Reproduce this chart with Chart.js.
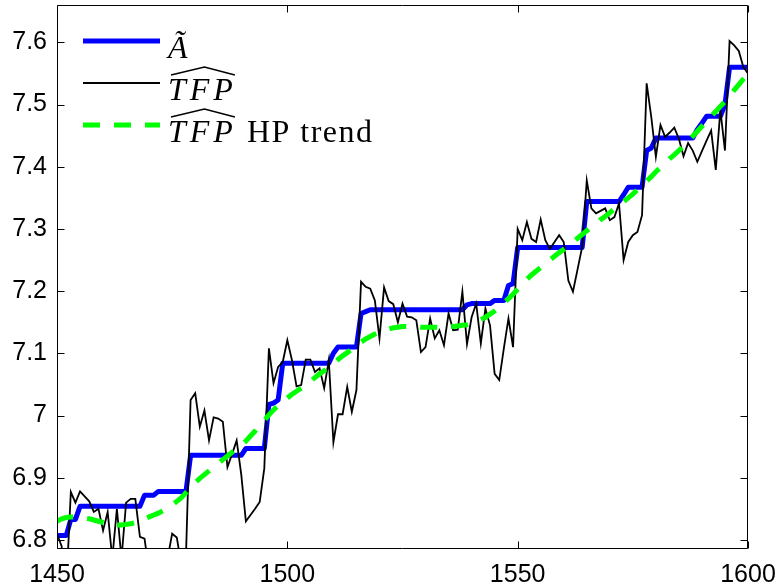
<!DOCTYPE html>
<html lang="en">
<head>
<meta charset="UTF-8" />
<title>TFP</title>
<script src="https://cdn.jsdelivr.net/npm/chart.js"></script>
<style>
  html, body { margin: 0; padding: 0; background: #fff; }
</style>
</head>
<body>
<canvas id="chartTfp" width="779" height="588"></canvas>
<script>
  // Years on the x axis
  const years = [
    1450, 1451, 1452, 1453, 1454, 1455, 1456, 1457, 1458, 1459,
    1460, 1461, 1462, 1463, 1464, 1465, 1466, 1467, 1468, 1469,
    1470, 1471, 1472, 1473, 1474, 1475, 1476, 1477, 1478, 1479,
    1480, 1481, 1482, 1483, 1484, 1485, 1486, 1487, 1488, 1489,
    1490, 1491, 1492, 1493, 1494, 1495, 1496, 1497, 1498, 1499,
    1500, 1501, 1502, 1503, 1504, 1505, 1506, 1507, 1508, 1509,
    1510, 1511, 1512, 1513, 1514, 1515, 1516, 1517, 1518, 1519,
    1520, 1521, 1522, 1523, 1524, 1525, 1526, 1527, 1528, 1529,
    1530, 1531, 1532, 1533, 1534, 1535, 1536, 1537, 1538, 1539,
    1540, 1541, 1542, 1543, 1544, 1545, 1546, 1547, 1548, 1549,
    1550, 1551, 1552, 1553, 1554, 1555, 1556, 1557, 1558, 1559,
    1560, 1561, 1562, 1563, 1564, 1565, 1566, 1567, 1568, 1569,
    1570, 1571, 1572, 1573, 1574, 1575, 1576, 1577, 1578, 1579,
    1580, 1581, 1582, 1583, 1584, 1585, 1586, 1587, 1588, 1589,
    1590, 1591, 1592, 1593, 1594, 1595, 1596, 1597, 1598, 1599,
    1600
  ];

  // Estimated TFP (log), yearly
  const tfp = [
    6.810, 6.790, 6.720, 6.877, 6.860, 6.878, 6.870, 6.862, 6.845, 6.850,
    6.815, 6.845, 6.770, 6.850, 6.770, 6.860, 6.866, 6.866, 6.805, 6.802,
    6.750, 6.740, 6.720, 6.740, 6.770, 6.810, 6.804, 6.760, 6.775, 7.025,
    7.036, 6.982, 7.008, 6.960, 6.997, 6.995, 6.990, 6.917, 6.938, 6.960,
    6.905, 6.830, 6.840, 6.850, 6.861, 6.915, 7.108, 7.052, 7.078, 7.086,
    7.121, 7.089, 7.047, 7.049, 7.090, 7.090, 7.070, 7.076, 7.044, 7.089,
    6.957, 7.002, 7.002, 7.046, 7.006, 7.041, 7.215, 7.207, 7.204, 7.185,
    7.124, 7.206, 7.184, 7.179, 7.150, 7.180, 7.159, 7.158, 7.153, 7.102,
    7.110, 7.156, 7.124, 7.137, 7.113, 7.164, 7.137, 7.138, 7.199, 7.115,
    7.158, 7.180, 7.116, 7.172, 7.145, 7.067, 7.057, 7.108, 7.156, 7.110,
    7.300, 7.282, 7.311, 7.284, 7.279, 7.315, 7.282, 7.268, 7.279, 7.290,
    7.279, 7.217, 7.199, 7.235, 7.271, 7.378, 7.333, 7.325, 7.329, 7.333,
    7.314, 7.319, 7.341, 7.250, 7.279, 7.290, 7.295, 7.322, 7.534, 7.480,
    7.416, 7.467, 7.448, 7.455, 7.463, 7.445, 7.417, 7.438, 7.426, 7.408,
    7.425, 7.442, 7.458, 7.395, 7.491, 7.426, 7.602, 7.595, 7.586, 7.560,
    7.550
  ];

  // A tilde, piecewise constant level
  const aTilde = [
    6.807, 6.807, 6.807, 6.833, 6.833, 6.854, 6.854, 6.854, 6.854, 6.854,
    6.854, 6.854, 6.854, 6.854, 6.854, 6.854, 6.854, 6.854, 6.854, 6.872,
    6.872, 6.872, 6.878, 6.878, 6.878, 6.878, 6.878, 6.878, 6.878, 6.936,
    6.936, 6.936, 6.936, 6.936, 6.936, 6.936, 6.936, 6.936, 6.936, 6.936,
    6.936, 6.947, 6.947, 6.947, 6.947, 6.947, 7.018, 7.020, 7.025, 7.084,
    7.084, 7.084, 7.084, 7.084, 7.084, 7.084, 7.084, 7.084, 7.084, 7.084,
    7.100, 7.110, 7.110, 7.110, 7.110, 7.110, 7.164, 7.167, 7.170, 7.170,
    7.170, 7.170, 7.170, 7.170, 7.170, 7.170, 7.170, 7.170, 7.170, 7.170,
    7.170, 7.170, 7.170, 7.170, 7.170, 7.170, 7.170, 7.170, 7.170, 7.178,
    7.180, 7.180, 7.180, 7.180, 7.180, 7.185, 7.185, 7.185, 7.209, 7.212,
    7.270, 7.270, 7.270, 7.270, 7.270, 7.270, 7.270, 7.270, 7.270, 7.270,
    7.270, 7.270, 7.270, 7.270, 7.270, 7.344, 7.344, 7.344, 7.344, 7.344,
    7.344, 7.344, 7.344, 7.355, 7.367, 7.367, 7.367, 7.367, 7.426, 7.430,
    7.446, 7.446, 7.446, 7.446, 7.446, 7.446, 7.446, 7.446, 7.446, 7.460,
    7.470, 7.481, 7.481, 7.481, 7.481, 7.500, 7.560, 7.560, 7.560, 7.560,
    7.560
  ];

  // HP trend of estimated TFP
  const hpTrend = [
    6.830, 6.834, 6.836, 6.837, 6.837, 6.836, 6.835, 6.834, 6.832, 6.830,
    6.828, 6.826, 6.825, 6.824, 6.824, 6.825, 6.826, 6.828, 6.831, 6.834,
    6.837, 6.840, 6.843, 6.847, 6.851, 6.856, 6.862, 6.868, 6.876, 6.884,
    6.892, 6.899, 6.905, 6.911, 6.917, 6.923, 6.929, 6.935, 6.941, 6.946,
    6.952, 6.959, 6.967, 6.975, 6.984, 6.992, 7.001, 7.009, 7.016, 7.022,
    7.028, 7.034, 7.039, 7.044, 7.049, 7.055, 7.061, 7.067, 7.072, 7.078,
    7.084, 7.090, 7.096, 7.101, 7.107, 7.113, 7.118, 7.123, 7.127, 7.131,
    7.134, 7.137, 7.139, 7.141, 7.142, 7.143, 7.143, 7.143, 7.143, 7.142,
    7.142, 7.142, 7.142, 7.142, 7.142, 7.143, 7.143, 7.144, 7.145, 7.146,
    7.148, 7.151, 7.154, 7.158, 7.163, 7.168, 7.174, 7.181, 7.188, 7.195,
    7.203, 7.211, 7.219, 7.226, 7.232, 7.238, 7.244, 7.250, 7.256, 7.262,
    7.267, 7.273, 7.279, 7.285, 7.291, 7.297, 7.303, 7.309, 7.315, 7.320,
    7.326, 7.332, 7.338, 7.344, 7.350, 7.356, 7.363, 7.370, 7.377, 7.384,
    7.392, 7.399, 7.406, 7.413, 7.419, 7.426, 7.433, 7.441, 7.449, 7.457,
    7.465, 7.473, 7.481, 7.489, 7.497, 7.505, 7.514, 7.523, 7.532, 7.541,
    7.550
  ];

  const xTicks = [1450, 1500, 1550, 1600];
  const yTicks = [6.8, 6.9, 7.0, 7.1, 7.2, 7.3, 7.4, 7.5, 7.6];

  const toPoints = vals => years.map((x, i) => ({ x: x, y: vals[i] }));

  // box round the axes with inward ticks on all four sides
  const framePlugin = {
    id: 'frame',
    afterDraw(chart) {
      const { ctx, chartArea: a, scales } = chart;
      const L = Math.round(a.left) + 0.5, R = Math.round(a.right) - 0.5;
      const T = Math.round(a.top) + 0.5, B = Math.round(a.bottom) + 0.5;
      const len = 7;
      ctx.save();
      ctx.strokeStyle = '#000';
      ctx.lineWidth = 1;
      ctx.beginPath();
      ctx.rect(L, T, R - L, B - T);
      xTicks.forEach(v => {
        const px = Math.round(scales.x.getPixelForValue(v)) + 0.5;
        ctx.moveTo(px, B); ctx.lineTo(px, B - len);
        ctx.moveTo(px, T); ctx.lineTo(px, T + len);
      });
      yTicks.forEach(v => {
        const py = Math.round(scales.y.getPixelForValue(v)) + 0.5;
        ctx.moveTo(L, py); ctx.lineTo(L + len, py);
        ctx.moveTo(R, py); ctx.lineTo(R - len, py);
      });
      ctx.stroke();
      ctx.restore();
    }
  };

  // legend in the upper left, no box
  const legendEntries = [
    { main: 'Ã', hat: false, rest: '', color: '#0000ff', width: 5, dash: [] },
    { main: 'TFP', hat: true, rest: '', color: '#000000', width: 2, dash: [] },
    { main: 'TFP', hat: true, rest: 'HP trend', color: '#00ff00', width: 5, dash: [17, 14] }
  ];

  const legendPlugin = {
    id: 'texLegend',
    afterDraw(chart) {
      const ctx = chart.ctx;
      ctx.save();
      legendEntries.forEach((e, i) => {
        const yLine = 41 + i * 42;
        ctx.strokeStyle = e.color;
        ctx.lineWidth = e.width;
        ctx.lineCap = 'butt';
        ctx.setLineDash(e.dash);
        ctx.beginPath();
        ctx.moveTo(83, yLine);
        ctx.lineTo(160, yLine);
        ctx.stroke();
        ctx.setLineDash([]);

        const base = yLine + 17;
        ctx.fillStyle = '#000';
        ctx.textBaseline = 'alphabetic';
        ctx.textAlign = 'left';
        ctx.font = 'italic 32px "Liberation Serif"';
        ctx.letterSpacing = e.hat ? '4px' : '0px';
        ctx.fillText(e.main, 168, base);
        const w = ctx.measureText(e.main).width;
        if (e.hat) {
          // wide hat over the letters
          ctx.strokeStyle = '#000';
          ctx.lineWidth = 1.6;
          ctx.beginPath();
          ctx.moveTo(171, base - 25);
          ctx.lineTo(168 + w / 2 + 2, base - 33);
          ctx.lineTo(168 + w - 2, base - 25);
          ctx.stroke();
        }
        if (e.rest) {
          ctx.letterSpacing = '1.5px';
          ctx.font = '32px "Liberation Serif"';
          ctx.fillText(e.rest, 168 + w + 10, base);
        }
      });
      ctx.restore();
    }
  };

  // keep the plot box fixed: no extra room for overhanging edge labels
  const noEdgePadding = s => {
    s.paddingLeft = 0;
    s.paddingRight = 0;
    s.paddingTop = 0;
    s.paddingBottom = 0;
  };

  const ctxTfp = document.getElementById('chartTfp').getContext('2d');
  new Chart(ctxTfp, {
    type: 'line',
    data: {
      datasets: [
        {
          label: 'TFP HP trend',
          data: toPoints(hpTrend),
          borderColor: '#00ff00',
          borderWidth: 5,
          borderDash: [17, 14],
          order: 0
        },
        {
          label: 'TFP',
          data: toPoints(tfp),
          borderColor: '#000000',
          borderWidth: 1.8,
          order: 1
        },
        {
          label: 'Ã',
          data: toPoints(aTilde),
          borderColor: '#0000ff',
          borderWidth: 5,
          borderJoinStyle: 'round',
          order: 2
        }
      ]
    },
    options: {
      responsive: false,
      animation: false,
      clip: 0,
      layout: { padding: { top: 5, right: 31, left: 0, bottom: 0 } },
      elements: {
        point: { radius: 0 },
        line: { tension: 0, fill: false }
      },
      plugins: {
        legend: { display: false },
        tooltip: { enabled: false }
      },
      scales: {
        x: {
          type: 'linear',
          min: 1450,
          max: 1600,
          afterBuildTicks: s => { s.ticks = xTicks.map(v => ({ value: v })); },
          afterFit: s => { s.height = 40; noEdgePadding(s); },
          grid: { display: false, drawTicks: false },
          border: { display: false },
          ticks: {
            autoSkip: false,
            maxRotation: 0,
            padding: 12,
            color: '#000',
            font: { family: 'Liberation Sans', size: 25 },
            callback: v => String(v)
          }
        },
        y: {
          type: 'linear',
          min: 6.787,
          max: 7.66,
          afterBuildTicks: s => { s.ticks = yTicks.map(v => ({ value: v })); },
          afterFit: s => { s.width = 57; noEdgePadding(s); },
          grid: { display: false, drawTicks: false },
          border: { display: false },
          ticks: {
            padding: 10,
            color: '#000',
            font: { family: 'Liberation Sans', size: 25 },
            callback: v => String(+Number(v).toFixed(1))
          }
        }
      }
    },
    plugins: [framePlugin, legendPlugin]
  });
</script>
</body>
</html>
